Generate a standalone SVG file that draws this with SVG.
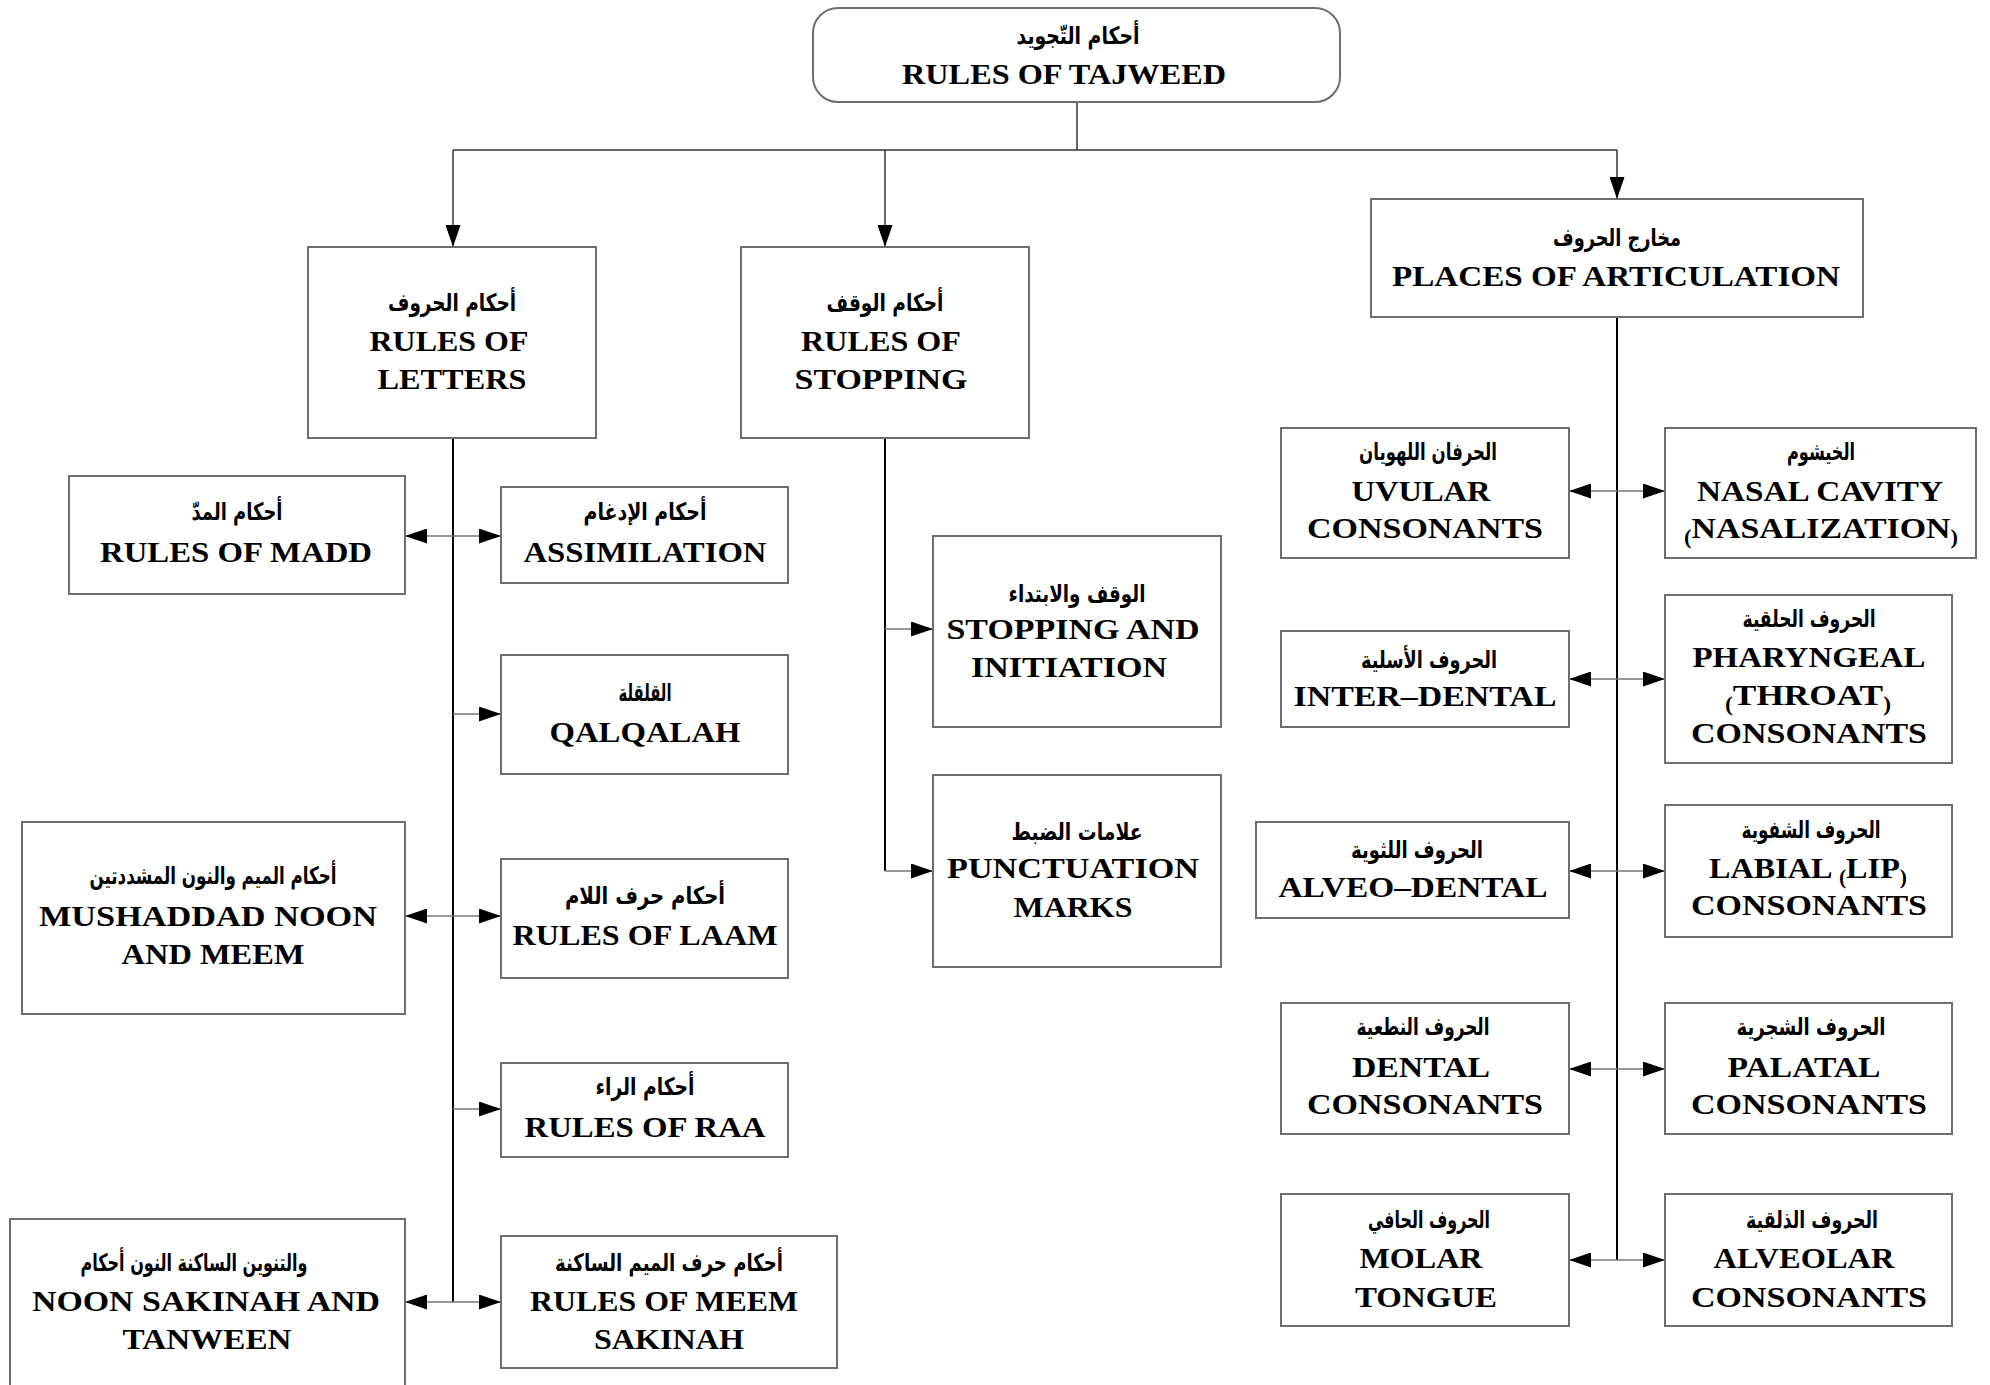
<svg xmlns="http://www.w3.org/2000/svg" width="1990" height="1385" viewBox="0 0 1990 1385">
  <style>
    .box { fill: #ffffff; stroke: #6e6e6e; stroke-width: 2; }
    .en { font-family: "Liberation Serif", "Times New Roman", serif; font-weight: bold; font-size: 30px; fill: #000; text-anchor: middle; }
    .ar { font-family: "DejaVu Sans", "Noto Sans", sans-serif; font-weight: bold; font-size: 24px; fill: #000; text-anchor: middle; direction: rtl; }
    .par { font-size: 20px; }
    .trunk { fill: none; stroke: #000; stroke-width: 2; }
    .branch { fill: none; stroke: #333; stroke-width: 1.5; }
    .link { fill: none; stroke: #777; stroke-width: 1.6; }
  </style>
  <defs>
    <marker id="head" markerUnits="userSpaceOnUse" markerWidth="22" markerHeight="15" viewBox="0 0 22 15" refX="22" refY="7.5" orient="auto-start-reverse">
      <path d="M0,0 L22,7.5 L0,15 z" fill="#000"/>
    </marker>
  </defs>
  <rect width="1990" height="1385" fill="#ffffff"/>

  <!-- connectors -->
  <g id="connectors">
    <!-- root to the three main branches -->
    <path class="branch" d="M1077,102 V150"/>
    <path class="branch" d="M453,150 H1617"/>
    <path class="branch" d="M453,150 V247" marker-end="url(#head)"/>
    <path class="branch" d="M885,150 V247" marker-end="url(#head)"/>
    <path class="branch" d="M1617,150 V199" marker-end="url(#head)"/>

    <!-- rules of letters trunk -->
    <path class="trunk" d="M453,438 V1302"/>
    <path class="link" d="M405,536 H501" marker-start="url(#head)" marker-end="url(#head)"/>
    <path class="link" d="M453,714 H501" marker-end="url(#head)"/>
    <path class="link" d="M405,916 H501" marker-start="url(#head)" marker-end="url(#head)"/>
    <path class="link" d="M453,1109 H501" marker-end="url(#head)"/>
    <path class="link" d="M405,1302 H501" marker-start="url(#head)" marker-end="url(#head)"/>

    <!-- rules of stopping trunk -->
    <path class="trunk" d="M885,438 V871"/>
    <path class="link" d="M885,629 H933" marker-end="url(#head)"/>
    <path class="link" d="M885,871 H933" marker-end="url(#head)"/>

    <!-- places of articulation trunk -->
    <path class="trunk" d="M1617,317 V1260"/>
    <path class="link" d="M1569,491 H1665" marker-start="url(#head)" marker-end="url(#head)"/>
    <path class="link" d="M1569,679 H1665" marker-start="url(#head)" marker-end="url(#head)"/>
    <path class="link" d="M1569,871 H1665" marker-start="url(#head)" marker-end="url(#head)"/>
    <path class="link" d="M1569,1069 H1665" marker-start="url(#head)" marker-end="url(#head)"/>
    <path class="link" d="M1569,1260 H1665" marker-start="url(#head)" marker-end="url(#head)"/>
  </g>

  <!-- root -->
  <g id="tajweed">
    <rect class="box" x="813" y="8" width="527" height="94" rx="25"/>
    <text class="ar" x="1078" y="44" textLength="123" lengthAdjust="spacingAndGlyphs">أحكام التّجويد</text>
    <text class="en" x="1064" y="84" textLength="324" lengthAdjust="spacingAndGlyphs">RULES OF TAJWEED</text>
  </g>

  <!-- level 1 -->
  <g id="letters">
    <rect class="box" x="308" y="247" width="288" height="191"/>
    <text class="ar" x="452" y="311" textLength="128" lengthAdjust="spacingAndGlyphs">أحكام الحروف</text>
    <text class="en" x="449" y="351" textLength="159" lengthAdjust="spacingAndGlyphs">RULES OF</text>
    <text class="en" x="452" y="389" textLength="149" lengthAdjust="spacingAndGlyphs">LETTERS</text>
  </g>
  <g id="stopping">
    <rect class="box" x="741" y="247" width="288" height="191"/>
    <text class="ar" x="885" y="311" textLength="117" lengthAdjust="spacingAndGlyphs">أحكام الوقف</text>
    <text class="en" x="881" y="351" textLength="160" lengthAdjust="spacingAndGlyphs">RULES OF</text>
    <text class="en" x="881" y="389" textLength="173" lengthAdjust="spacingAndGlyphs">STOPPING</text>
  </g>
  <g id="articulation">
    <rect class="box" x="1371" y="199" width="492" height="118"/>
    <text class="ar" x="1617" y="246" textLength="128" lengthAdjust="spacingAndGlyphs">مخارج الحروف</text>
    <text class="en" x="1616" y="286" textLength="448" lengthAdjust="spacingAndGlyphs">PLACES OF ARTICULATION</text>
  </g>

  <!-- rules of letters children -->
  <g id="madd">
    <rect class="box" x="69" y="476" width="336" height="118"/>
    <text class="ar" x="237" y="520" textLength="91" lengthAdjust="spacingAndGlyphs">أحكام المدّ</text>
    <text class="en" x="236" y="562" textLength="272" lengthAdjust="spacingAndGlyphs">RULES OF MADD</text>
  </g>
  <g id="assimilation">
    <rect class="box" x="501" y="487" width="287" height="96"/>
    <text class="ar" x="645" y="520" textLength="123" lengthAdjust="spacingAndGlyphs">أحكام الإدغام</text>
    <text class="en" x="645" y="562" textLength="243" lengthAdjust="spacingAndGlyphs">ASSIMILATION</text>
  </g>
  <g id="qalqalah">
    <rect class="box" x="501" y="655" width="287" height="119"/>
    <text class="ar" x="645" y="701" textLength="53" lengthAdjust="spacingAndGlyphs">القلقلة</text>
    <text class="en" x="645" y="742" textLength="191" lengthAdjust="spacingAndGlyphs">QALQALAH</text>
  </g>
  <g id="mushaddad">
    <rect class="box" x="22" y="822" width="383" height="192"/>
    <text class="ar" x="213" y="884" textLength="247" lengthAdjust="spacingAndGlyphs">أحكام الميم والنون المشددتين</text>
    <text class="en" x="208" y="926" textLength="338" lengthAdjust="spacingAndGlyphs">MUSHADDAD NOON</text>
    <text class="en" x="213" y="964" textLength="183" lengthAdjust="spacingAndGlyphs">AND MEEM</text>
  </g>
  <g id="laam">
    <rect class="box" x="501" y="859" width="287" height="119"/>
    <text class="ar" x="645" y="904" textLength="160" lengthAdjust="spacingAndGlyphs">أحكام حرف اللام</text>
    <text class="en" x="645" y="945" textLength="265" lengthAdjust="spacingAndGlyphs">RULES OF LAAM</text>
  </g>
  <g id="raa">
    <rect class="box" x="501" y="1063" width="287" height="94"/>
    <text class="ar" x="645" y="1095" textLength="99" lengthAdjust="spacingAndGlyphs">أحكام الراء</text>
    <text class="en" x="645" y="1137" textLength="241" lengthAdjust="spacingAndGlyphs">RULES OF RAA</text>
  </g>
  <g id="noon-sakinah">
    <rect class="box" x="10" y="1219" width="395" height="180"/>
    <text class="ar" x="194" y="1271" textLength="227" lengthAdjust="spacingAndGlyphs">والتنوين الساكنة النون أحكام</text>
    <text class="en" x="206" y="1311" textLength="348" lengthAdjust="spacingAndGlyphs">NOON SAKINAH AND</text>
    <text class="en" x="207" y="1349" textLength="169" lengthAdjust="spacingAndGlyphs">TANWEEN</text>
  </g>
  <g id="meem-sakinah">
    <rect class="box" x="501" y="1236" width="336" height="132"/>
    <text class="ar" x="669" y="1271" textLength="228" lengthAdjust="spacingAndGlyphs">أحكام حرف الميم الساكنة</text>
    <text class="en" x="664" y="1311" textLength="268" lengthAdjust="spacingAndGlyphs">RULES OF MEEM</text>
    <text class="en" x="669" y="1349" textLength="150" lengthAdjust="spacingAndGlyphs">SAKINAH</text>
  </g>

  <!-- rules of stopping children -->
  <g id="stopping-initiation">
    <rect class="box" x="933" y="536" width="288" height="191"/>
    <text class="ar" x="1077" y="602" textLength="137" lengthAdjust="spacingAndGlyphs">الوقف والابتداء</text>
    <text class="en" x="1073" y="639" textLength="253" lengthAdjust="spacingAndGlyphs">STOPPING AND</text>
    <text class="en" x="1069" y="677" textLength="196" lengthAdjust="spacingAndGlyphs">INITIATION</text>
  </g>
  <g id="punctuation">
    <rect class="box" x="933" y="775" width="288" height="192"/>
    <text class="ar" x="1077" y="840" textLength="131" lengthAdjust="spacingAndGlyphs">علامات الضبط</text>
    <text class="en" x="1073" y="878" textLength="252" lengthAdjust="spacingAndGlyphs">PUNCTUATION</text>
    <text class="en" x="1073" y="917" textLength="119" lengthAdjust="spacingAndGlyphs">MARKS</text>
  </g>

  <!-- places of articulation children -->
  <g id="uvular">
    <rect class="box" x="1281" y="428" width="288" height="130"/>
    <text class="ar" x="1428" y="460" textLength="138" lengthAdjust="spacingAndGlyphs">الحرفان اللهويان</text>
    <text class="en" x="1421" y="501" textLength="139" lengthAdjust="spacingAndGlyphs">UVULAR</text>
    <text class="en" x="1425" y="538" textLength="236" lengthAdjust="spacingAndGlyphs">CONSONANTS</text>
  </g>
  <g id="nasal-cavity">
    <rect class="box" x="1665" y="428" width="311" height="130"/>
    <text class="ar" x="1821" y="460" textLength="68" lengthAdjust="spacingAndGlyphs">الخيشوم</text>
    <text class="en" x="1820" y="501" textLength="246" lengthAdjust="spacingAndGlyphs">NASAL CAVITY</text>
    <text class="en" x="1821" y="538" textLength="274" lengthAdjust="spacingAndGlyphs"><tspan class="par" dy="6">(</tspan><tspan dy="-6">NASALIZATION</tspan><tspan class="par" dy="6">)</tspan></text>
  </g>
  <g id="inter-dental">
    <rect class="box" x="1281" y="631" width="288" height="96"/>
    <text class="ar" x="1429" y="668" textLength="136" lengthAdjust="spacingAndGlyphs">الحروف الأسلية</text>
    <text class="en" x="1425" y="706" textLength="263" lengthAdjust="spacingAndGlyphs">INTER–DENTAL</text>
  </g>
  <g id="pharyngeal">
    <rect class="box" x="1665" y="595" width="287" height="168"/>
    <text class="ar" x="1809" y="627" textLength="133" lengthAdjust="spacingAndGlyphs">الحروف الحلقية</text>
    <text class="en" x="1809" y="667" textLength="233" lengthAdjust="spacingAndGlyphs">PHARYNGEAL</text>
    <text class="en" x="1808" y="705" textLength="166" lengthAdjust="spacingAndGlyphs"><tspan class="par" dy="6">(</tspan><tspan dy="-6">THROAT</tspan><tspan class="par" dy="6">)</tspan></text>
    <text class="en" x="1809" y="743" textLength="236" lengthAdjust="spacingAndGlyphs">CONSONANTS</text>
  </g>
  <g id="alveo-dental">
    <rect class="box" x="1256" y="822" width="313" height="96"/>
    <text class="ar" x="1417" y="858" textLength="132" lengthAdjust="spacingAndGlyphs">الحروف اللثوية</text>
    <text class="en" x="1413" y="897" textLength="269" lengthAdjust="spacingAndGlyphs">ALVEO–DENTAL</text>
  </g>
  <g id="labial">
    <rect class="box" x="1665" y="805" width="287" height="132"/>
    <text class="ar" x="1811" y="838" textLength="139" lengthAdjust="spacingAndGlyphs">الحروف الشفوية</text>
    <text class="en" x="1808" y="878" textLength="198" lengthAdjust="spacingAndGlyphs">LABIAL <tspan class="par" dy="6">(</tspan><tspan dy="-6">LIP</tspan><tspan class="par" dy="6">)</tspan></text>
    <text class="en" x="1809" y="915" textLength="236" lengthAdjust="spacingAndGlyphs">CONSONANTS</text>
  </g>
  <g id="dental">
    <rect class="box" x="1281" y="1003" width="288" height="131"/>
    <text class="ar" x="1423" y="1035" textLength="133" lengthAdjust="spacingAndGlyphs">الحروف النطعية</text>
    <text class="en" x="1421" y="1077" textLength="138" lengthAdjust="spacingAndGlyphs">DENTAL</text>
    <text class="en" x="1425" y="1114" textLength="236" lengthAdjust="spacingAndGlyphs">CONSONANTS</text>
  </g>
  <g id="palatal">
    <rect class="box" x="1665" y="1003" width="287" height="131"/>
    <text class="ar" x="1811" y="1035" textLength="149" lengthAdjust="spacingAndGlyphs">الحروف الشجرية</text>
    <text class="en" x="1804" y="1077" textLength="153" lengthAdjust="spacingAndGlyphs">PALATAL</text>
    <text class="en" x="1809" y="1114" textLength="236" lengthAdjust="spacingAndGlyphs">CONSONANTS</text>
  </g>
  <g id="molar">
    <rect class="box" x="1281" y="1194" width="288" height="132"/>
    <text class="ar" x="1429" y="1228" textLength="122" lengthAdjust="spacingAndGlyphs">الحروف الحافي</text>
    <text class="en" x="1421" y="1268" textLength="123" lengthAdjust="spacingAndGlyphs">MOLAR</text>
    <text class="en" x="1426" y="1307" textLength="142" lengthAdjust="spacingAndGlyphs">TONGUE</text>
  </g>
  <g id="alveolar">
    <rect class="box" x="1665" y="1194" width="287" height="132"/>
    <text class="ar" x="1812" y="1228" textLength="132" lengthAdjust="spacingAndGlyphs">الحروف الذلقية</text>
    <text class="en" x="1804" y="1268" textLength="181" lengthAdjust="spacingAndGlyphs">ALVEOLAR</text>
    <text class="en" x="1809" y="1307" textLength="236" lengthAdjust="spacingAndGlyphs">CONSONANTS</text>
  </g>
</svg>
